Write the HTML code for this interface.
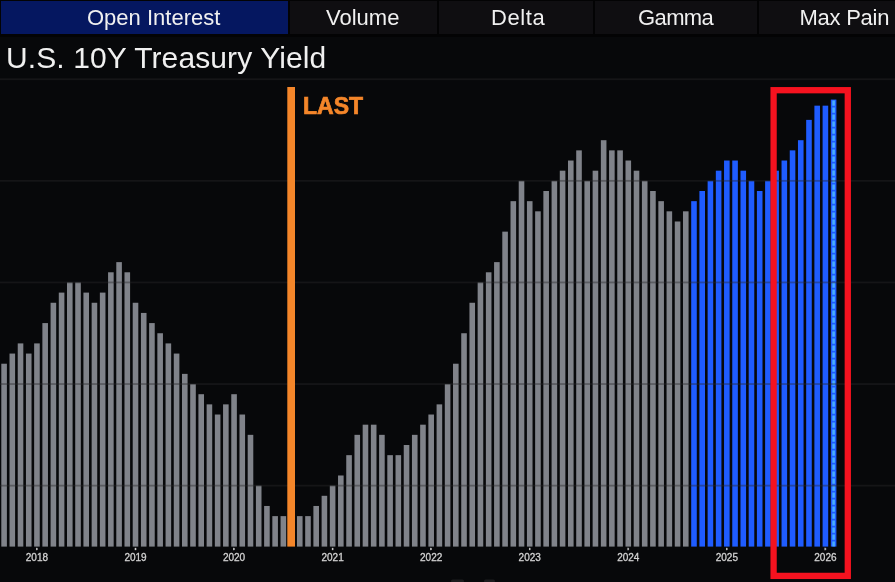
<!DOCTYPE html>
<html><head><meta charset="utf-8">
<style>
html,body{margin:0;padding:0;}
body{width:895px;height:582px;overflow:hidden;background:#07080a;position:relative;font-family:"Liberation Sans",sans-serif;}
.bar{position:absolute;left:0;top:0;width:895px;height:37px;background:#030304;}
.tab{position:absolute;top:1px;height:33px;background:#0f0e11;}
.tt{position:absolute;top:0.5px;font-size:22px;line-height:34px;color:#f0f0f0;white-space:nowrap;}
.tab.on{background:#051760;}
.title{position:absolute;left:6px;top:38px;font-size:30px;letter-spacing:0.1px;color:#f0f0f0;white-space:nowrap;line-height:40px;}
svg{position:absolute;left:0;top:0;}
#wrap{position:absolute;left:0;top:0;width:895px;height:582px;filter:blur(0.45px);}
</style></head><body><div id="wrap">
<div class="bar"></div>
<div class="tab on" style="left:1px;width:287px;"></div>
<div class="tab" style="left:290px;width:147px;"></div>
<div class="tab" style="left:439px;width:154px;"></div>
<div class="tab" style="left:595px;width:162px;"></div>
<div class="tab" style="left:759px;width:136px;"></div>
<div class="tt" id="t1" style="left:87px;letter-spacing:0px">Open Interest</div>
<div class="tt" id="t2" style="left:326px;letter-spacing:0px">Volume</div>
<div class="tt" id="t3" style="left:491px;letter-spacing:0.6px">Delta</div>
<div class="tt" id="t4" style="left:638px;letter-spacing:-0.6px">Gamma</div>
<div class="tt" id="t5" style="left:799.5px;letter-spacing:-0.25px">Max Pain</div>
<div class="title">U.S. 10Y Treasury Yield</div>
<svg width="895" height="582" viewBox="0 0 895 582">
<rect x="1.30" y="363.72" width="5.6" height="182.88" fill="#80838a"/>
<rect x="9.51" y="353.56" width="5.6" height="193.04" fill="#80838a"/>
<rect x="17.73" y="343.40" width="5.6" height="203.20" fill="#80838a"/>
<rect x="25.94" y="353.56" width="5.6" height="193.04" fill="#80838a"/>
<rect x="34.15" y="343.40" width="5.6" height="203.20" fill="#80838a"/>
<rect x="42.37" y="323.08" width="5.6" height="223.52" fill="#80838a"/>
<rect x="50.58" y="302.76" width="5.6" height="243.84" fill="#80838a"/>
<rect x="58.79" y="292.60" width="5.6" height="254.00" fill="#80838a"/>
<rect x="67.00" y="282.44" width="5.6" height="264.16" fill="#80838a"/>
<rect x="75.22" y="282.44" width="5.6" height="264.16" fill="#80838a"/>
<rect x="83.43" y="292.60" width="5.6" height="254.00" fill="#80838a"/>
<rect x="91.64" y="302.76" width="5.6" height="243.84" fill="#80838a"/>
<rect x="99.86" y="292.60" width="5.6" height="254.00" fill="#80838a"/>
<rect x="108.07" y="272.28" width="5.6" height="274.32" fill="#80838a"/>
<rect x="116.28" y="262.12" width="5.6" height="284.48" fill="#80838a"/>
<rect x="124.49" y="272.28" width="5.6" height="274.32" fill="#80838a"/>
<rect x="132.71" y="302.76" width="5.6" height="243.84" fill="#80838a"/>
<rect x="140.92" y="312.92" width="5.6" height="233.68" fill="#80838a"/>
<rect x="149.13" y="323.08" width="5.6" height="223.52" fill="#80838a"/>
<rect x="157.35" y="333.24" width="5.6" height="213.36" fill="#80838a"/>
<rect x="165.56" y="343.40" width="5.6" height="203.20" fill="#80838a"/>
<rect x="173.77" y="353.56" width="5.6" height="193.04" fill="#80838a"/>
<rect x="181.99" y="373.88" width="5.6" height="172.72" fill="#80838a"/>
<rect x="190.20" y="384.04" width="5.6" height="162.56" fill="#80838a"/>
<rect x="198.41" y="394.20" width="5.6" height="152.40" fill="#80838a"/>
<rect x="206.62" y="404.36" width="5.6" height="142.24" fill="#80838a"/>
<rect x="214.84" y="414.52" width="5.6" height="132.08" fill="#80838a"/>
<rect x="223.05" y="404.36" width="5.6" height="142.24" fill="#80838a"/>
<rect x="231.26" y="394.20" width="5.6" height="152.40" fill="#80838a"/>
<rect x="239.48" y="414.52" width="5.6" height="132.08" fill="#80838a"/>
<rect x="247.69" y="434.84" width="5.6" height="111.76" fill="#80838a"/>
<rect x="255.90" y="485.64" width="5.6" height="60.96" fill="#80838a"/>
<rect x="264.12" y="505.96" width="5.6" height="40.64" fill="#80838a"/>
<rect x="272.33" y="516.12" width="5.6" height="30.48" fill="#80838a"/>
<rect x="280.54" y="516.12" width="5.6" height="30.48" fill="#80838a"/>
<rect x="296.97" y="516.12" width="5.6" height="30.48" fill="#80838a"/>
<rect x="305.18" y="516.12" width="5.6" height="30.48" fill="#80838a"/>
<rect x="313.39" y="505.96" width="5.6" height="40.64" fill="#80838a"/>
<rect x="321.61" y="495.80" width="5.6" height="50.80" fill="#80838a"/>
<rect x="329.82" y="485.64" width="5.6" height="60.96" fill="#80838a"/>
<rect x="338.03" y="475.48" width="5.6" height="71.12" fill="#80838a"/>
<rect x="346.25" y="455.16" width="5.6" height="91.44" fill="#80838a"/>
<rect x="354.46" y="434.84" width="5.6" height="111.76" fill="#80838a"/>
<rect x="362.67" y="424.68" width="5.6" height="121.92" fill="#80838a"/>
<rect x="370.88" y="424.68" width="5.6" height="121.92" fill="#80838a"/>
<rect x="379.10" y="434.84" width="5.6" height="111.76" fill="#80838a"/>
<rect x="387.31" y="455.16" width="5.6" height="91.44" fill="#80838a"/>
<rect x="395.52" y="455.16" width="5.6" height="91.44" fill="#80838a"/>
<rect x="403.74" y="445.00" width="5.6" height="101.60" fill="#80838a"/>
<rect x="411.95" y="434.84" width="5.6" height="111.76" fill="#80838a"/>
<rect x="420.16" y="424.68" width="5.6" height="121.92" fill="#80838a"/>
<rect x="428.38" y="414.52" width="5.6" height="132.08" fill="#80838a"/>
<rect x="436.59" y="404.36" width="5.6" height="142.24" fill="#80838a"/>
<rect x="444.80" y="384.04" width="5.6" height="162.56" fill="#80838a"/>
<rect x="453.01" y="363.72" width="5.6" height="182.88" fill="#80838a"/>
<rect x="461.23" y="333.24" width="5.6" height="213.36" fill="#80838a"/>
<rect x="469.44" y="302.76" width="5.6" height="243.84" fill="#80838a"/>
<rect x="477.65" y="282.44" width="5.6" height="264.16" fill="#80838a"/>
<rect x="485.87" y="272.28" width="5.6" height="274.32" fill="#80838a"/>
<rect x="494.08" y="262.12" width="5.6" height="284.48" fill="#80838a"/>
<rect x="502.29" y="231.64" width="5.6" height="314.96" fill="#80838a"/>
<rect x="510.51" y="201.16" width="5.6" height="345.44" fill="#80838a"/>
<rect x="518.72" y="180.84" width="5.6" height="365.76" fill="#80838a"/>
<rect x="526.93" y="201.16" width="5.6" height="345.44" fill="#80838a"/>
<rect x="535.14" y="211.32" width="5.6" height="335.28" fill="#80838a"/>
<rect x="543.36" y="191.00" width="5.6" height="355.60" fill="#80838a"/>
<rect x="551.57" y="180.84" width="5.6" height="365.76" fill="#80838a"/>
<rect x="559.78" y="170.68" width="5.6" height="375.92" fill="#80838a"/>
<rect x="568.00" y="160.52" width="5.6" height="386.08" fill="#80838a"/>
<rect x="576.21" y="150.36" width="5.6" height="396.24" fill="#80838a"/>
<rect x="584.42" y="180.84" width="5.6" height="365.76" fill="#80838a"/>
<rect x="592.64" y="170.68" width="5.6" height="375.92" fill="#80838a"/>
<rect x="600.85" y="140.20" width="5.6" height="406.40" fill="#80838a"/>
<rect x="609.06" y="150.36" width="5.6" height="396.24" fill="#80838a"/>
<rect x="617.27" y="150.36" width="5.6" height="396.24" fill="#80838a"/>
<rect x="625.49" y="160.52" width="5.6" height="386.08" fill="#80838a"/>
<rect x="633.70" y="170.68" width="5.6" height="375.92" fill="#80838a"/>
<rect x="641.91" y="180.84" width="5.6" height="365.76" fill="#80838a"/>
<rect x="650.13" y="191.00" width="5.6" height="355.60" fill="#80838a"/>
<rect x="658.34" y="201.16" width="5.6" height="345.44" fill="#80838a"/>
<rect x="666.55" y="211.32" width="5.6" height="335.28" fill="#80838a"/>
<rect x="674.77" y="221.48" width="5.6" height="325.12" fill="#80838a"/>
<rect x="682.98" y="211.32" width="5.6" height="335.28" fill="#80838a"/>
<rect x="691.19" y="201.16" width="5.6" height="345.44" fill="#1f5cff"/>
<rect x="699.40" y="191.00" width="5.6" height="355.60" fill="#1f5cff"/>
<rect x="707.62" y="180.84" width="5.6" height="365.76" fill="#1f5cff"/>
<rect x="715.83" y="170.68" width="5.6" height="375.92" fill="#1f5cff"/>
<rect x="724.04" y="160.52" width="5.6" height="386.08" fill="#1f5cff"/>
<rect x="732.26" y="160.52" width="5.6" height="386.08" fill="#1f5cff"/>
<rect x="740.47" y="170.68" width="5.6" height="375.92" fill="#1f5cff"/>
<rect x="748.68" y="180.84" width="5.6" height="365.76" fill="#1f5cff"/>
<rect x="756.90" y="191.00" width="5.6" height="355.60" fill="#1f5cff"/>
<rect x="765.11" y="180.84" width="5.6" height="365.76" fill="#1f5cff"/>
<rect x="773.32" y="170.68" width="5.6" height="375.92" fill="#1f5cff"/>
<rect x="781.53" y="160.52" width="5.6" height="386.08" fill="#1f5cff"/>
<rect x="789.75" y="150.36" width="5.6" height="396.24" fill="#1f5cff"/>
<rect x="797.96" y="140.20" width="5.6" height="406.40" fill="#1f5cff"/>
<rect x="806.17" y="119.88" width="5.6" height="426.72" fill="#1f5cff"/>
<rect x="814.39" y="105.66" width="5.6" height="440.94" fill="#1f5cff"/>
<rect x="822.60" y="105.66" width="5.6" height="440.94" fill="#1f5cff"/>
<rect x="830.81" y="99.56" width="5.6" height="447.04" fill="#1f5cff"/>
<line x1="833.61" y1="100.56" x2="833.61" y2="546.60" stroke="#48acff" stroke-width="2.6" stroke-dasharray="5.2 1.8"/>
<rect x="0" y="484.74" width="895" height="1.8" fill="#28282b" fill-opacity="0.42"/>
<rect x="0" y="383.14" width="895" height="1.8" fill="#28282b" fill-opacity="0.42"/>
<rect x="0" y="281.54" width="895" height="1.8" fill="#28282b" fill-opacity="0.42"/>
<rect x="0" y="179.94" width="895" height="1.8" fill="#28282b" fill-opacity="0.42"/>
<rect x="0" y="78.34" width="895" height="1.8" fill="#28282b" fill-opacity="0.42"/>
<rect x="287.3" y="87" width="7.7" height="459.60" fill="#f4862a"/>
<text x="303" y="113.5" fill="#f4862a" font-family="Liberation Sans" font-weight="bold" font-size="23" stroke="#f4862a" stroke-width="0.7">LAST</text>
<g fill="#d2d2d2" stroke="#d2d2d2" stroke-width="0.3" font-family="Liberation Sans" font-size="10">
<rect x="36.35" y="548" width="1.2" height="2" fill="#9a9a9a"/>
<text x="36.95" y="560.5" text-anchor="middle">2018</text>
<rect x="134.91" y="548" width="1.2" height="2" fill="#9a9a9a"/>
<text x="135.51" y="560.5" text-anchor="middle">2019</text>
<rect x="233.46" y="548" width="1.2" height="2" fill="#9a9a9a"/>
<text x="234.06" y="560.5" text-anchor="middle">2020</text>
<rect x="332.02" y="548" width="1.2" height="2" fill="#9a9a9a"/>
<text x="332.62" y="560.5" text-anchor="middle">2021</text>
<rect x="430.58" y="548" width="1.2" height="2" fill="#9a9a9a"/>
<text x="431.18" y="560.5" text-anchor="middle">2022</text>
<rect x="529.13" y="548" width="1.2" height="2" fill="#9a9a9a"/>
<text x="529.73" y="560.5" text-anchor="middle">2023</text>
<rect x="627.69" y="548" width="1.2" height="2" fill="#9a9a9a"/>
<text x="628.29" y="560.5" text-anchor="middle">2024</text>
<rect x="726.24" y="548" width="1.2" height="2" fill="#9a9a9a"/>
<text x="726.84" y="560.5" text-anchor="middle">2025</text>
<rect x="824.80" y="548" width="1.2" height="2" fill="#9a9a9a"/>
<text x="825.40" y="560.5" text-anchor="middle">2026</text>
</g>
<rect x="451" y="579.5" width="13" height="3" rx="1.5" fill="#1c1c1e"/>
<rect x="484" y="579.5" width="11" height="3" rx="1.5" fill="#1c1c1e"/>
<rect x="773.6" y="90.2" width="74.2" height="485.7" fill="none" stroke="#f5121f" stroke-width="6.3"/>
</svg>
</div></body></html>
